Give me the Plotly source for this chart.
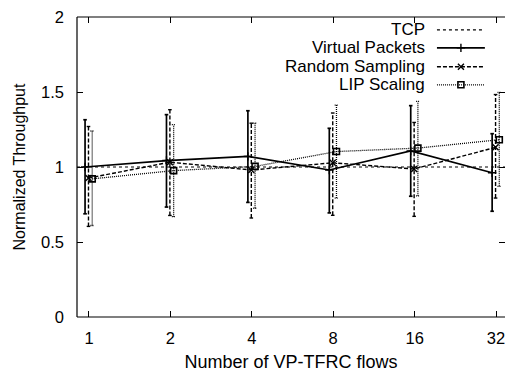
import plotly.graph_objects as go

# ---- data ----
flows = ["1", "2", "4", "8", "16", "32"]
tcp = [1, 1, 1, 1, 1, 1]
vp_mean = [1.000, 1.043, 1.071, 0.980, 1.107, 0.962]
vp_lo = [0.688, 0.733, 0.764, 0.694, 0.805, 0.705]
vp_hi = [1.315, 1.349, 1.375, 1.258, 1.409, 1.222]
rs_mean = [0.926, 1.032, 0.980, 1.028, 0.987, 1.131]
rs_lo = [0.604, 0.677, 0.660, 0.678, 0.671, 0.793]
rs_hi = [1.270, 1.382, 1.292, 1.360, 1.297, 1.483]
lip_mean = [0.921, 0.976, 1.004, 1.103, 1.126, 1.182]
lip_lo = [0.610, 0.669, 0.725, 0.793, 0.808, 0.871]
lip_hi = [1.240, 1.282, 1.292, 1.413, 1.437, 1.497]

idx = list(range(len(flows)))
XR = [-0.147, 5.11]
FONT = "Liberation Sans, Arial, Helvetica, sans-serif"

series = [
    dict(name="Virtual Packets", m=vp_mean, lo=vp_lo, hi=vp_hi, off=-0.048,
         dash="solid", w=1.7, sym="cross-thin", ms=6, mlw=1.4),
    dict(name="Random Sampling", m=rs_mean, lo=rs_lo, hi=rs_hi, off=-0.006,
         dash="4px,2px", w=1.4, sym="x-thin", ms=6, mlw=1.4),
    dict(name="LIP Scaling", m=lip_mean, lo=lip_lo, hi=lip_hi, off=0.040,
         dash="1px,1px", w=1.3, sym="square-open", ms=6, mlw=1.6),
]
TCP_DASH = "3px,3px"

fig = go.Figure()

# TCP reference line across the full x range
fig.add_trace(go.Scatter(x=XR, y=[tcp[0], tcp[-1]], mode="lines",
                         line=dict(color="black", width=1.2, dash=TCP_DASH),
                         showlegend=False, hoverinfo="skip"))

cap = 0.022
for s in series:
    xs = [i + s["off"] for i in idx]
    ex, ey = [], []
    for x, lo, hi in zip(xs, s["lo"], s["hi"]):
        ex += [x, x, None, x - cap, x + cap, None, x - cap, x + cap, None]
        ey += [lo, hi, None, lo, lo, None, hi, hi, None]
    fig.add_trace(go.Scatter(x=ex, y=ey, mode="lines",
                             line=dict(color="black", width=s["w"], dash=s["dash"]),
                             showlegend=False, hoverinfo="skip"))
    fig.add_trace(go.Scatter(x=xs, y=s["m"], mode="lines+markers", name=s["name"],
                             line=dict(color="black", width=s["w"], dash=s["dash"]),
                             marker=dict(symbol=s["sym"], size=s["ms"], color="black",
                                         line=dict(color="black", width=s["mlw"])),
                             showlegend=False))

# ---- manual gnuplot-style key (text left, sample right) ----
key_names = ["TCP"] + [s["name"] for s in series]
key_dash = [TCP_DASH] + [s["dash"] for s in series]
key_w = [1.2] + [s["w"] for s in series]
key_sym = [None] + [s["sym"] for s in series]
key_y = [0.957, 0.897, 0.834, 0.774]
for name, d, w, sym, ky in zip(key_names, key_dash, key_w, key_sym, key_y):
    fig.add_annotation(text=name, xref="paper", yref="paper", x=0.818, y=ky,
                       xanchor="right", yanchor="middle", showarrow=False,
                       font=dict(family=FONT, size=17, color="black"))
    fig.add_trace(go.Scatter(x=[0.841, 0.953], y=[ky, ky], mode="lines",
                             line=dict(color="black", width=w, dash=d),
                             xaxis="x2", yaxis="y2", showlegend=False, hoverinfo="skip"))
    if sym:
        s = [q for q in series if q["sym"] == sym][0]
        fig.add_trace(go.Scatter(x=[0.897], y=[ky], mode="markers",
                                 marker=dict(symbol=sym, size=s["ms"], color="black",
                                             line=dict(color="black", width=s["mlw"])),
                                 xaxis="x2", yaxis="y2", showlegend=False, hoverinfo="skip"))

# frame (left, bottom, top); right edge lies outside the picture
for x0, y0, x1, y1 in [(0, 0, 0, 1), (0, 0, 1, 0), (0, 1, 1, 1)]:
    fig.add_shape(type="line", xref="paper", yref="paper", x0=x0, y0=y0, x1=x1, y1=y1,
                  line=dict(color="black", width=1.2))

fig.update_layout(
    width=505, height=372,
    margin=dict(l=77, r=0, t=17, b=55),
    paper_bgcolor="white", plot_bgcolor="white",
    font=dict(family=FONT, size=16, color="black"),
    showlegend=False,
    xaxis=dict(range=XR, tickmode="array", tickvals=idx, ticktext=flows,
               ticks="inside", ticklen=6, tickwidth=1, tickcolor="black",
               showline=False, mirror="ticks", showgrid=False, zeroline=False,
               ticklabelstandoff=9, ticklabeloverflow="allow",
               title=dict(text="Number of VP-TFRC flows", standoff=14,
                          font=dict(size=18)),
               tickfont=dict(size=16.5)),
    yaxis=dict(range=[0, 2], tickvals=[0, 0.5, 1, 1.5, 2],
               ticktext=["0", "0.5", "1", "1.5", "2"],
               ticks="inside", ticklen=6, tickwidth=1, tickcolor="black",
               showline=False, mirror="ticks", showgrid=False, zeroline=False,
               ticklabelstandoff=12,
               title=dict(text="Normalized Throughput", standoff=11,
                          font=dict(size=16)),
               tickfont=dict(size=16.5)),
    xaxis2=dict(range=[0, 1], overlaying="x", visible=False, fixedrange=True),
    yaxis2=dict(range=[0, 1], overlaying="y", visible=False, fixedrange=True),
)

fig.write_html("out.html")
